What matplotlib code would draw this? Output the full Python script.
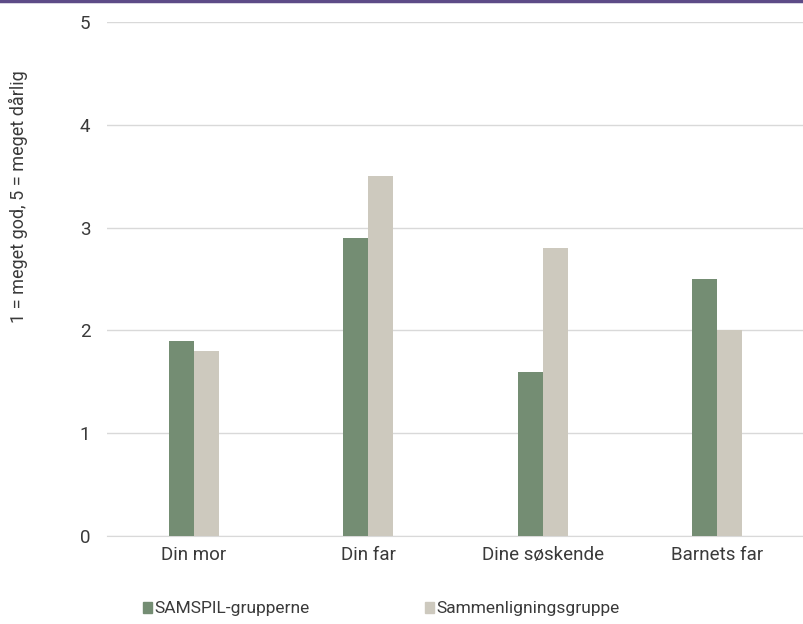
import numpy as np
import matplotlib.pyplot as plt
from matplotlib.patches import Patch

plt.rcParams['font.family'] = ['Roboto', 'DejaVu Sans']

categories = ["Din mor", "Din far", "Dine søskende", "Barnets far"]
samspil = [1.9, 2.9, 1.6, 2.5]
sammenligning = [1.8, 3.5, 2.8, 2.0]
series_names = ["SAMSPIL-grupperne", "Sammenligningsgruppe"]
colors = ["#748d73", "#cdc9be"]
txt_color = '#3a3a3a'

fig = plt.figure(figsize=(8.04, 6.24), dpi=100)
ax = fig.add_axes([107 / 804, 1 - 536 / 624, 697 / 804, 514 / 624])

x = np.arange(len(categories))
w = 0.143
ax.bar(x - w / 2, samspil, w, color=colors[0], zorder=3)
ax.bar(x + w / 2, sammenligning, w, color=colors[1], zorder=3)

ax.set_xlim(-0.5, len(categories) - 0.5)
ax.set_ylim(0, 5)
ax.set_yticks(range(6))
ax.set_xticks(x)
ax.set_xticklabels(categories)
ax.grid(axis='y', color='#d9d9d9', linewidth=1, zorder=0)
for s in ['top', 'right', 'left']:
    ax.spines[s].set_visible(False)
ax.spines['bottom'].set_color('#d9d9d9')
ax.tick_params(axis='both', length=0, labelsize=13.5, colors=txt_color)
ax.tick_params(axis='y', pad=12)
ax.tick_params(axis='x', pad=7)

fig.text(18 / 804, 1 - 197 / 624, "1 = meget god, 5 = meget dårlig", rotation=90,
         ha='center', va='center', fontsize=13, color=txt_color)

# purple bar at top
fig.add_artist(plt.Line2D([0, 1], [1 - 1 / 624, 1 - 1 / 624], color='#5d4b87',
                          linewidth=2.5, transform=fig.transFigure))

handles = [Patch(color=c) for c in colors]
leg = fig.legend(handles, series_names, loc='center left', ncol=2,
                 bbox_to_anchor=(127 / 804, 1 - 609 / 624), frameon=False,
                 handlelength=0.55, handleheight=0.55, handletextpad=0.15,
                 columnspacing=6.6, prop={'size': 12.5})
for t in leg.get_texts():
    t.set_color(txt_color)

fig.savefig("out.png", dpi=100)
